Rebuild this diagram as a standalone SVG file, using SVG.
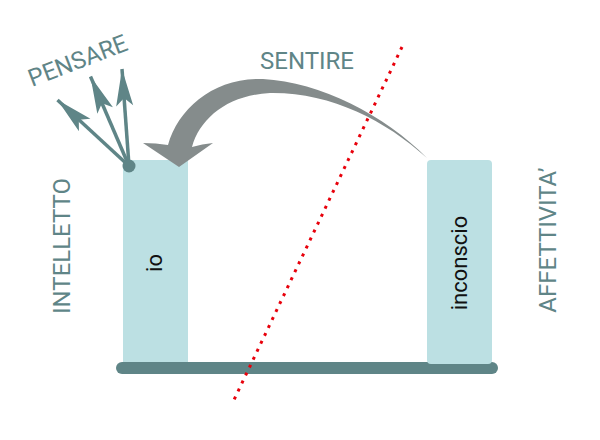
<svg xmlns="http://www.w3.org/2000/svg" width="600" height="440" viewBox="0 0 600 440">
<style>
.col{fill:#bce0e3}
.lbl{font-family:Roboto,"Liberation Sans",sans-serif;font-size:24px;fill:#5f8587}
.in{font-family:Roboto,"Liberation Sans",sans-serif;font-size:22px;fill:#111}
.thin{stroke:#5f8587;stroke-width:3.5;fill:none}
</style>
<defs>
<marker id="barb" markerUnits="userSpaceOnUse" orient="auto" refX="0" refY="0" markerWidth="50" markerHeight="30" viewBox="-40 -15 50 30" overflow="visible">
<path d="M0,0 L-37,-8.5 L-29,0 L-37,8.5 Z" fill="#5f8587"/>
</marker>
</defs>
<rect width="600" height="440" fill="#fff"/>
<g id="base"><rect x="116" y="362" width="382" height="12" rx="6" fill="#5f8587"/></g>
<g id="io"><rect class="col" x="123" y="160" width="65" height="202"/>
<text class="in" transform="translate(162,263) rotate(-90)" text-anchor="middle">io</text></g>
<g id="inconscio"><rect class="col" x="427" y="160" width="65" height="204" rx="4"/>
<text class="in" transform="translate(467,263) rotate(-90)" text-anchor="middle">inconscio</text></g>
<g id="labels">
<text class="lbl" x="307" y="69" text-anchor="middle">SENTIRE</text>
<text class="lbl" transform="translate(32,87) rotate(-21)">PENSARE</text>
<text class="lbl" transform="translate(70,246) rotate(-90)" text-anchor="middle">INTELLETTO</text>
<text class="lbl" transform="translate(556,240) rotate(-90)" text-anchor="middle">AFFETTIVITA’</text>
</g>
<g id="connectors">
<path d="M427,158 C385,115 320,82 263,79 C215,77 178,108 168,145 Q156,143 143,143 L179,167 L213,143 Q202,144 192,147 C200,118 228,95 270,93 C330,92 385,120 427,158 Z" fill="#858c8c"/>
<line class="thin" x1="129" y1="166" x2="57.5" y2="100" marker-end="url(#barb)"/>
<line class="thin" x1="129" y1="166" x2="90.5" y2="76.5" marker-end="url(#barb)"/>
<line class="thin" x1="129" y1="166" x2="122" y2="69" marker-end="url(#barb)"/>
<circle cx="129" cy="166" r="6.5" fill="#5f8587"/>
<line x1="402" y1="47" x2="232" y2="404" stroke="#e8000b" stroke-width="3" stroke-dasharray="3 5.8"/>
</g>
</svg>
